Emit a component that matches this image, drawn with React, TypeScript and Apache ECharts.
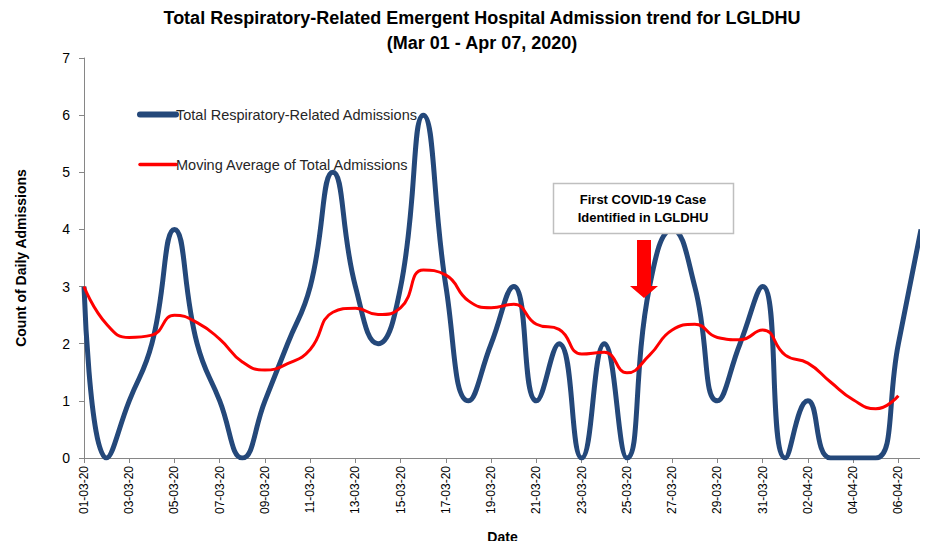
import React, { useEffect, useRef } from "react";
import * as echarts from "echarts";

const dates = [
  "01-03-20","02-03-20","03-03-20","04-03-20","05-03-20","06-03-20","07-03-20","08-03-20",
  "09-03-20","10-03-20","11-03-20","12-03-20","13-03-20","14-03-20","15-03-20","16-03-20",
  "17-03-20","18-03-20","19-03-20","20-03-20","21-03-20","22-03-20","23-03-20","24-03-20",
  "25-03-20","26-03-20","27-03-20","28-03-20","29-03-20","30-03-20","31-03-20","01-04-20",
  "02-04-20","03-04-20","04-04-20","05-04-20","06-04-20","07-04-20",
];

const totalAdmissions = [
  3, 0, 1, 2, 4, 2, 1, 0, 1, 2, 3, 5, 3, 2, 3, 6, 3, 1, 2, 3, 1, 2, 0, 2, 0, 3, 4, 3, 1, 2, 3, 0, 1, 0, 0, 0, 2, 4,
];

const movingAverage = [
  3.0, 2.34, 2.11, 2.15, 2.5, 2.37, 2.08, 1.68, 1.54, 1.65, 1.9, 2.55, 2.62, 2.51, 2.63, 3.29,
  3.2, 2.75, 2.63, 2.69, 2.34, 2.25, 1.82, 1.85, 1.49, 1.8, 2.24, 2.34, 2.11, 2.07, 2.24, 1.8,
  1.66, 1.33, 1.02, 0.86, 1.09, null,
];

const yTicks = [0, 1, 2, 3, 4, 5, 6, 7];

const FONT = "'Liberation Sans', Arial, sans-serif";

export default function App() {
  const ref = useRef<HTMLDivElement>(null);
  useEffect(() => {
    if (!ref.current) return;
    const chart = echarts.init(ref.current, undefined, { renderer: "svg" });
    chart.setOption({
      animation: false,
      backgroundColor: "#ffffff",
      textStyle: { fontFamily: FONT },
      title: {
        text: "Total Respiratory-Related Emergent Hospital Admission trend for LGLDHU\n(Mar 01 - Apr 07, 2020)",
        left: 477,
        top: 0,
        textAlign: "center",
        textStyle: { fontFamily: FONT, fontSize: 18, fontWeight: "bold", color: "#000", lineHeight: 25 },
      },
      legend: {
        orient: "vertical",
        left: 132,
        top: 102,
        itemWidth: 36,
        itemHeight: 14,
        itemGap: 35,
        itemStyle: { opacity: 0 },
        textStyle: { fontFamily: FONT, fontSize: 14.5, color: "#262626", padding: [0, 0, 0, -5] },
        data: [
          {
            name: "Total Respiratory-Related Admissions",
            lineStyle: { width: 6, cap: "round", color: "#24487a" },
          },
          {
            name: "Moving Average of Total Admissions",
            lineStyle: { width: 3.5, cap: "round", color: "#ff0000" },
          },
        ],
      },
      grid: { left: 84, right: 7, top: 58, bottom: 87, containLabel: false },
      xAxis: {
        type: "category",
        data: dates,
        boundaryGap: false,
        name: "Date",
        nameLocation: "middle",
        nameGap: 72,
        nameTextStyle: { fontFamily: FONT, fontSize: 14, fontWeight: "bold", color: "#000" },
        axisLine: { lineStyle: { color: "#868686" } },
        axisTick: { show: true, interval: 1, length: 5, lineStyle: { color: "#868686" } },
        axisLabel: { interval: 1, rotate: 90, fontSize: 12, color: "#000", margin: 8, fontFamily: FONT },
        splitLine: { show: false },
      },
      yAxis: {
        type: "value",
        min: yTicks[0],
        max: yTicks[yTicks.length - 1],
        interval: 1,
        name: "Count of Daily Admissions",
        nameLocation: "middle",
        nameGap: 56,
        nameTextStyle: { fontFamily: FONT, fontSize: 14, fontWeight: "bold", color: "#000" },
        axisLine: { show: true, lineStyle: { color: "#868686" } },
        axisTick: { show: true, length: 5, lineStyle: { color: "#868686" } },
        axisLabel: { fontSize: 14, color: "#000", margin: 14, fontFamily: FONT },
        splitLine: { show: false },
      },
      series: [
        {
          name: "Total Respiratory-Related Admissions",
          type: "line",
          data: totalAdmissions,
          smooth: 0.5,
          symbol: "none",
          showSymbol: false,
          clip: true,
          itemStyle: { color: "#24487a" },
          lineStyle: { color: "#24487a", width: 5 },
          z: 2,
        },
        {
          name: "Moving Average of Total Admissions",
          type: "line",
          data: movingAverage,
          smooth: 0.5,
          symbol: "none",
          showSymbol: false,
          clip: true,
          itemStyle: { color: "#ff0000" },
          lineStyle: { color: "#ff0000", width: 3 },
          z: 3,
        },
      ],
      graphic: [
        {
          type: "rect",
          shape: { x: 553.5, y: 183.5, width: 180, height: 50 },
          style: { fill: "#ffffff", stroke: "#bfbfbf", lineWidth: 1.5 },
          z: 10,
        },
        {
          type: "text",
          x: 643,
          y: 208,
          style: {
            text: "First COVID-19 Case\nIdentified in LGLDHU",
            fontFamily: FONT,
            fontSize: 13,
            fontWeight: "bold",
            fill: "#000",
            align: "center",
            verticalAlign: "middle",
            lineHeight: 18,
          },
          z: 11,
        },
        {
          type: "polygon",
          shape: {
            points: [
              [637, 240], [651, 240], [651, 286], [658, 286], [644, 298], [630, 286], [637, 286],
            ],
          },
          style: { fill: "#ff0000" },
          z: 11,
        },
      ],
    });
    return () => chart.dispose();
  }, []);
  return <div ref={ref} style={{ width: 928, height: 549, margin: -8 }} />;
}
